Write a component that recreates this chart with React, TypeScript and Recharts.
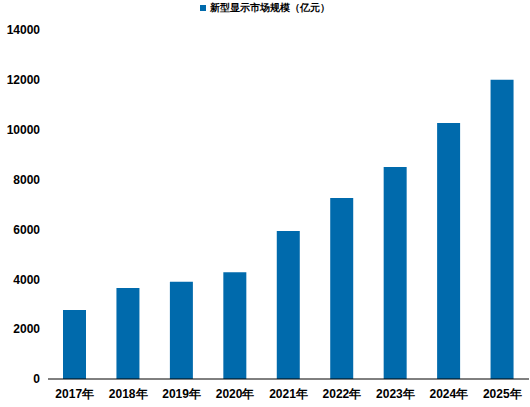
import { Bar, BarChart, XAxis, YAxis } from 'recharts'

const BLUE = '#006AAC'
const FONT = '"Liberation Sans Narrow", "Liberation Sans", Arial, sans-serif'

const years = ['2017年', '2018年', '2019年', '2020年', '2021年', '2022年', '2023年', '2024年', '2025年']
const marketSize = [2770, 3650, 3900, 4280, 5940, 7260, 8500, 10270, 12000]
const yTicks = [0, 2000, 4000, 6000, 8000, 10000, 12000, 14000]
const seriesName = '新型显示市场规模（亿元）'

const data = years.map((year, i) => ({ year, value: marketSize[i] }))

export default function App() {
  return (
    <div style={{ position: 'relative', width: 530, height: 407, background: '#fff' }}>
      <style>{'body{margin:0}'}</style>
      <div
        style={{
          position: 'absolute',
          top: 1,
          left: 0,
          width: 530,
          display: 'flex',
          alignItems: 'center',
          justifyContent: 'center',
          gap: 4,
          fontFamily: FONT,
          fontSize: 10,
          fontWeight: 'bold',
          color: '#000',
        }}
      >
        <span style={{ width: 6, height: 6, backgroundColor: BLUE, display: 'inline-block' }} />
        <span>{seriesName}</span>
      </div>
      <BarChart width={530} height={407} data={data} margin={{ top: 30, right: 1, left: 0, bottom: 0 }}>
        <XAxis
          dataKey="year"
          height={28}
          tickLine={false}
          axisLine={{ stroke: '#000', strokeWidth: 1 }}
          tick={{ fill: '#000', fontSize: 12, fontWeight: 'bold', fontFamily: FONT }}
          tickMargin={4}
          interval={0}
        />
        <YAxis
          width={48}
          domain={[0, 14000]}
          ticks={yTicks}
          tickLine={false}
          axisLine={false}
          tick={{ fill: '#000', fontSize: 12, fontWeight: 'bold', fontFamily: FONT }}
          tickMargin={2}
          interval={0}
        />
        <Bar dataKey="value" name={seriesName} fill={BLUE} barSize={23} isAnimationActive={false} />
      </BarChart>
    </div>
  )
}
